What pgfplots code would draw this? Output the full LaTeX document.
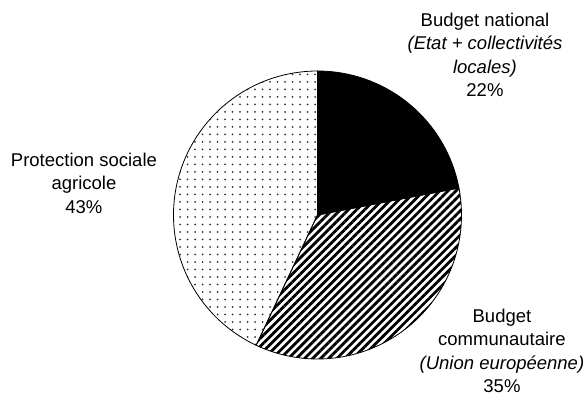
\documentclass[border=0pt]{standalone}
\usepackage{fontspec}
\setmainfont{Liberation Sans}
\usepackage{pgfplots}
\pgfplotsset{compat=1.18}
\usetikzlibrary{patterns.meta}
\begin{document}
\begin{tikzpicture}
% shares (%) of each slice, clockwise from the top
\pgfmathsetmacro{\vA}{22}% Budget national
\pgfmathsetmacro{\vB}{35}% Budget communautaire
\pgfmathsetmacro{\vC}{43}% Protection sociale agricole
\pgfmathsetmacro{\aA}{90}
\pgfmathsetmacro{\aB}{90-3.6*\vA}
\pgfmathsetmacro{\aC}{\aB-3.6*\vB}
\pgfmathsetmacro{\aD}{\aC-3.6*\vC}
\path[use as bounding box] (-173.5bp,-38bp) rectangle (412.5bp,359bp);
\begin{axis}[
  at={(0,0)}, anchor=south west,
  scale only axis, width=288bp, height=288bp,
  xmin=-1, xmax=1, ymin=-1, ymax=1,
  hide axis, clip=false,
  every axis plot/.append style={line width=0.8bp, draw=black},
]
\addplot[fill=black, domain=\aB:\aA, samples=90] ({cos(x)},{sin(x)}) -- (axis cs:0,0) -- cycle;
\addplot[pattern={Lines[angle=45,distance=5.7bp,line width=2.8bp]}, pattern color=black, domain=\aC:\aB, samples=120] ({cos(x)},{sin(x)}) -- (axis cs:0,0) -- cycle;
\addplot[pattern={Dots[distance=7.5bp,radius=1bp]}, pattern color=black!80, domain=\aD:\aC, samples=140] ({cos(x)},{sin(x)}) -- (axis cs:0,0) -- cycle;
\begin{scope}[every node/.style={align=center, font=\fontsize{18.5bp}{23.5bp}\selectfont}]
\node at (axis cs:1.163,1.111) {Budget national\\\textit{(Etat + collectivités}\\\textit{locales)}\\22\%};
\node at (axis cs:-1.622,0.222) {Protection sociale\\agricole\\43\%};
\node at (axis cs:1.281,-0.945) {Budget\\communautaire\\\textit{(Union européenne)}\\35\%};
\end{scope}
\end{axis}
\end{tikzpicture}
\end{document}
